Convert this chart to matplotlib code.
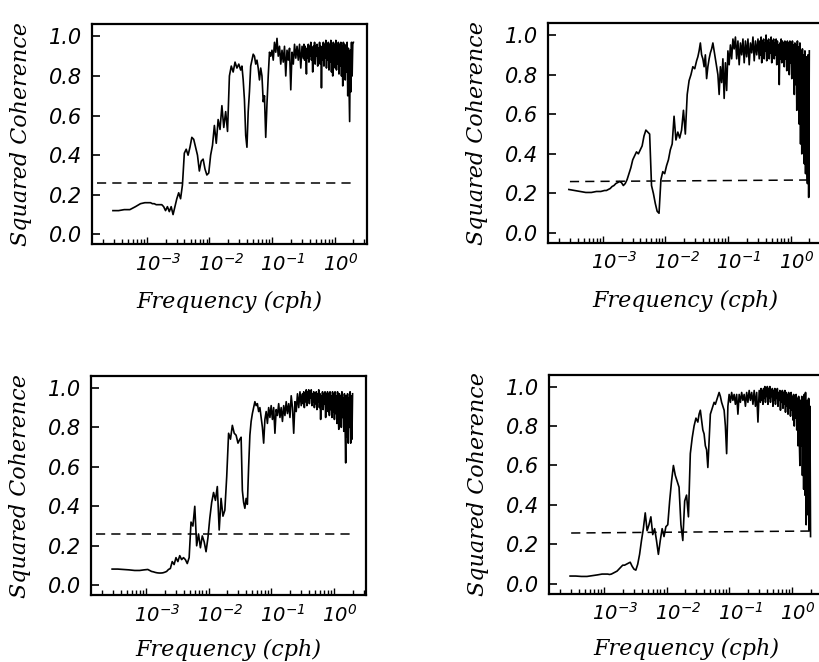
import numpy as np
import matplotlib
matplotlib.use("Agg")
import matplotlib.pyplot as plt
from matplotlib.ticker import LogLocator, NullFormatter, FixedLocator
from matplotlib.transforms import offset_copy

plt.rcParams['mathtext.fontset'] = 'custom'
plt.rcParams['mathtext.rm'] = 'DejaVu Sans:italic'
plt.rcParams['mathtext.it'] = 'DejaVu Sans:italic'

# frequency grid (log10 of cph), shared by the four panels
log_freq = [
    -3.54, -3.45, -3.36, -3.27, -3.18, -3.10, -3.03,
    -2.97, -2.94, -2.91, -2.88, -2.85, -2.82, -2.79, -2.76, -2.73, -2.70,
    -2.67, -2.64, -2.61, -2.58, -2.55, -2.52, -2.49, -2.46, -2.43, -2.40,
    -2.37, -2.34, -2.31, -2.28, -2.25, -2.22, -2.19, -2.16, -2.13, -2.10,
    -2.07, -2.04, -2.01, -1.98, -1.95, -1.92, -1.89, -1.86, -1.83, -1.80,
    -1.77, -1.74, -1.71, -1.68, -1.65, -1.62, -1.59, -1.56, -1.53, -1.50,
    -1.48, -1.46, -1.44, -1.42, -1.40, -1.38, -1.36, -1.34, -1.32, -1.30,
    -1.28, -1.26, -1.24, -1.22, -1.20, -1.18, -1.16, -1.14, -1.12, -1.10,
    -1.08, -1.06, -1.04, -1.02, -1.00, -0.98, -0.96, -0.94, -0.92, -0.90,
    -0.88, -0.86, -0.84, -0.82, -0.80, -0.78, -0.76, -0.74, -0.72, -0.70,
    -0.68, -0.66, -0.64, -0.62, -0.60, -0.58, -0.56, -0.54, -0.52, -0.50,
    -0.49, -0.48, -0.47, -0.46, -0.45, -0.44, -0.43, -0.42, -0.41, -0.40,
    -0.39, -0.38, -0.37, -0.36, -0.35, -0.34, -0.33, -0.32, -0.31, -0.30,
    -0.29, -0.28, -0.27, -0.26, -0.25, -0.24, -0.23, -0.22, -0.21, -0.20,
    -0.19, -0.18, -0.17, -0.16, -0.15, -0.14, -0.13, -0.12, -0.11, -0.10,
    -0.09, -0.08, -0.07, -0.06, -0.05, -0.04, -0.03, -0.02, -0.01, 0.00,
    0.01, 0.02, 0.03, 0.04, 0.05, 0.06, 0.07, 0.08, 0.09, 0.10,
    0.11, 0.12, 0.13, 0.14, 0.15, 0.16, 0.17, 0.18, 0.19, 0.20,
    0.21, 0.22, 0.23, 0.24, 0.25, 0.26, 0.27, 0.28, 0.29, 0.30,
]

coh_a = [
    0.12, 0.12, 0.125, 0.125, 0.14, 0.155, 0.16,
    0.16, 0.16, 0.155, 0.155, 0.15, 0.15, 0.15, 0.15, 0.14, 0.12,
    0.14, 0.115, 0.14, 0.10, 0.14, 0.18, 0.21, 0.18, 0.25, 0.41,
    0.43, 0.40, 0.44, 0.49, 0.48, 0.44, 0.40, 0.32, 0.37, 0.38,
    0.33, 0.30, 0.31, 0.40, 0.45, 0.55, 0.46, 0.58, 0.53, 0.65,
    0.54, 0.62, 0.52, 0.80, 0.85, 0.82, 0.87, 0.84, 0.86, 0.83,
    0.85, 0.78, 0.68, 0.50, 0.44, 0.62, 0.72, 0.85, 0.88, 0.91,
    0.90, 0.86, 0.88, 0.84, 0.78, 0.84, 0.80, 0.67, 0.70, 0.49,
    0.66, 0.80, 0.92, 0.90, 0.93, 0.88, 0.97, 0.92, 0.99, 0.90,
    0.95, 0.86, 0.93, 0.87, 0.95, 0.80, 0.93, 0.88, 0.94, 0.73,
    0.92, 0.86, 0.96, 0.89, 0.95, 0.88, 0.96, 0.84, 0.95, 0.89,
    0.96, 0.88, 0.95, 0.90, 0.81, 0.94, 0.89, 0.96, 0.87, 0.95,
    0.90, 0.97, 0.88, 0.94, 0.82, 0.95, 0.89, 0.97, 0.86, 0.95,
    0.90, 0.96, 0.85, 0.94, 0.89, 0.97, 0.86, 0.95, 0.74, 0.93,
    0.88, 0.97, 0.85, 0.96, 0.89, 0.98, 0.84, 0.95, 0.88, 0.97,
    0.83, 0.96, 0.87, 0.98, 0.82, 0.95, 0.80, 0.97, 0.86, 0.96,
    0.84, 0.98, 0.83, 0.95, 0.86, 0.97, 0.81, 0.96, 0.85, 0.97,
    0.80, 0.95, 0.75, 0.97, 0.84, 0.96, 0.78, 0.95, 0.82, 0.97,
    0.70, 0.94, 0.76, 0.57, 0.93, 0.72, 0.97, 0.80, 0.96, 0.97,
]

coh_b = [
    0.22, 0.215, 0.21, 0.205, 0.205, 0.21, 0.21,
    0.215, 0.215, 0.22, 0.225, 0.235, 0.24, 0.25, 0.255, 0.26, 0.255,
    0.24, 0.25, 0.27, 0.30, 0.33, 0.37, 0.39, 0.41, 0.40, 0.42,
    0.44, 0.49, 0.52, 0.51, 0.50, 0.24, 0.20, 0.15, 0.11, 0.10,
    0.27, 0.31, 0.30, 0.34, 0.37, 0.42, 0.45, 0.59, 0.47, 0.51,
    0.48, 0.52, 0.62, 0.50, 0.70, 0.77, 0.80, 0.84, 0.83, 0.87,
    0.89, 0.92, 0.96, 0.90, 0.88, 0.84, 0.90, 0.78, 0.84, 0.88,
    0.91, 0.93, 0.96, 0.92, 0.88, 0.84, 0.80, 0.70, 0.84, 0.76,
    0.88, 0.68, 0.86, 0.72, 0.92, 0.85, 0.95, 0.88, 0.98, 0.93,
    0.99, 0.88, 0.97, 0.85, 0.96, 0.90, 0.98, 0.86, 0.97, 0.89,
    0.98, 0.85, 0.96, 0.91, 0.99, 0.87, 0.97, 0.90, 0.98, 0.88,
    0.97, 0.90, 0.99, 0.86, 0.97, 0.91, 0.98, 0.88, 0.96, 0.92,
    1.00, 0.87, 0.97, 0.90, 0.98, 0.88, 0.96, 0.91, 0.99, 0.86,
    0.97, 0.92, 0.98, 0.88, 0.96, 0.90, 0.98, 0.85, 0.97, 0.91,
    0.95, 0.75, 0.96, 0.88, 0.98, 0.86, 0.97, 0.90, 0.96, 0.84,
    0.97, 0.88, 0.96, 0.82, 0.97, 0.85, 0.96, 0.80, 0.97, 0.86,
    0.96, 0.78, 0.97, 0.82, 0.95, 0.70, 0.96, 0.75, 0.95, 0.62,
    0.97, 0.68, 0.94, 0.55, 0.96, 0.45, 0.92, 0.40, 0.93, 0.50,
    0.90, 0.35, 0.92, 0.30, 0.89, 0.38, 0.25, 0.90, 0.18, 0.92,
]

coh_c = [
    0.082, 0.082, 0.08, 0.078, 0.075, 0.075, 0.078,
    0.08, 0.075, 0.07, 0.068, 0.065, 0.063, 0.062, 0.062, 0.063, 0.066,
    0.07, 0.08, 0.085, 0.12, 0.105, 0.14, 0.12, 0.15, 0.13, 0.14,
    0.13, 0.11, 0.14, 0.32, 0.30, 0.40, 0.20, 0.26, 0.19, 0.25,
    0.22, 0.17, 0.24, 0.34, 0.42, 0.47, 0.43, 0.50, 0.28, 0.44,
    0.35, 0.38, 0.55, 0.77, 0.74, 0.81, 0.77, 0.76, 0.72, 0.74,
    0.75, 0.48, 0.42, 0.39, 0.44, 0.41, 0.60, 0.76, 0.83, 0.87,
    0.90, 0.93, 0.91, 0.92, 0.88, 0.90, 0.85, 0.80, 0.72, 0.84,
    0.88, 0.82, 0.90, 0.85, 0.91, 0.84, 0.90, 0.77, 0.89, 0.86,
    0.92, 0.85, 0.90, 0.83, 0.91, 0.86, 0.93, 0.87, 0.92, 0.85,
    0.96, 0.90, 0.77, 0.93, 0.88, 0.97, 0.90, 0.98, 0.91, 0.97,
    0.92, 0.98, 0.90, 0.97, 0.93, 0.99, 0.91, 0.98, 0.94, 0.99,
    0.92, 0.98, 0.95, 0.99, 0.91, 0.97, 0.93, 0.98, 0.90, 0.96,
    0.92, 0.98, 0.89, 0.97, 0.93, 0.99, 0.90, 0.97, 0.84, 0.96,
    0.91, 0.98, 0.89, 0.97, 0.92, 0.98, 0.85, 0.97, 0.90, 0.98,
    0.88, 0.97, 0.86, 0.98, 0.89, 0.96, 0.85, 0.98, 0.88, 0.97,
    0.84, 0.98, 0.87, 0.96, 0.82, 0.98, 0.86, 0.79, 0.97, 0.84,
    0.96, 0.80, 0.98, 0.85, 0.95, 0.78, 0.97, 0.82, 0.62, 0.96,
    0.75, 0.97, 0.72, 0.95, 0.80, 0.98, 0.72, 0.96, 0.74, 0.97,
]

coh_d = [
    0.04, 0.04, 0.038, 0.038, 0.042, 0.046, 0.05,
    0.05, 0.05, 0.048, 0.05, 0.055, 0.06, 0.065, 0.075, 0.085, 0.095,
    0.095, 0.10, 0.105, 0.11, 0.09, 0.075, 0.07, 0.10, 0.15, 0.22,
    0.28, 0.36, 0.27, 0.30, 0.34, 0.25, 0.28, 0.22, 0.15, 0.22,
    0.28, 0.24, 0.29, 0.30, 0.42, 0.52, 0.60, 0.55, 0.52, 0.49,
    0.30, 0.22, 0.42, 0.45, 0.34, 0.66, 0.74, 0.80, 0.84, 0.82,
    0.86, 0.88, 0.83, 0.78, 0.76, 0.70, 0.68, 0.59, 0.72, 0.86,
    0.88, 0.90, 0.92, 0.91, 0.93, 0.95, 0.97, 0.95, 0.92, 0.90,
    0.88, 0.80, 0.66, 0.90, 0.96, 0.92, 0.97, 0.93, 0.96, 0.91,
    0.96, 0.86, 0.96, 0.92, 0.97, 0.93, 0.96, 0.90, 0.97, 0.92,
    0.98, 0.93, 0.97, 0.91, 0.98, 0.90, 0.97, 0.82, 0.98, 0.92,
    0.99, 0.93, 0.98, 0.91, 0.99, 0.94, 1.00, 0.92, 0.99, 0.95,
    1.00, 0.91, 0.99, 0.94, 1.00, 0.92, 0.98, 0.95, 0.99, 0.90,
    0.98, 0.93, 0.99, 0.91, 0.98, 0.94, 0.99, 0.90, 0.97, 0.93,
    0.98, 0.88, 0.97, 0.92, 0.98, 0.89, 0.97, 0.91, 0.98, 0.87,
    0.97, 0.90, 0.96, 0.86, 0.97, 0.89, 0.96, 0.85, 0.97, 0.88,
    0.95, 0.83, 0.96, 0.80, 0.95, 0.84, 0.96, 0.78, 0.94, 0.70,
    0.95, 0.74, 0.60, 0.93, 0.70, 0.95, 0.55, 0.92, 0.48, 0.96,
    0.45, 0.97, 0.30, 0.50, 0.93, 0.35, 0.94, 0.27, 0.90, 0.24,
]

# 95% significance level (dashed), start/end frequency and level
sig_freq_left = [1.6e-4, 1.95]
sig_freq_right = [3.0e-4, 2.1]
sig_a = [0.262, 0.262]
sig_b = [0.260, 0.268]
sig_c = [0.262, 0.262]
sig_d = [0.258, 0.268]

y_ticks = [0.0, 0.2, 0.4, 0.6, 0.8, 1.0]
y_ticklabels = ['0.0', '0.2', '0.4', '0.6', '0.8', '1.0']
x_ticks = [1e-3, 1e-2, 1e-1, 1e0]
x_ticklabels = [r'$10^{-3}$', r'$10^{-2}$', r'$10^{-1}$', r'$10^{0}$']

freq_cph = 10.0 ** np.array(log_freq)

fig = plt.figure(figsize=(8.2, 6.62), dpi=100)

# rect, values, dashed-line x, dashed-line level, xlabel y position
panels = [
    ([0.112, 0.631, 0.335, 0.332], coh_a, sig_freq_left, sig_a, -0.262),
    ([0.668, 0.633, 0.335, 0.332], coh_b, sig_freq_right, sig_b, -0.262),
    ([0.111, 0.101, 0.335, 0.331], coh_c, sig_freq_left, sig_c, -0.25),
    ([0.6695, 0.103, 0.335, 0.331], coh_d, sig_freq_right, sig_d, -0.25),
]

label_font = dict(family='DejaVu Serif', style='italic', fontsize=16)

for rect, coh, sfreq, slev, xl_y in panels:
    ax = fig.add_axes(rect)
    ax.plot(freq_cph, coh, color='black', lw=1.2)
    ax.plot(sfreq, slev, color='black', lw=1.1, dashes=(6, 4))
    ax.set_xscale('log')
    ax.set_xlim(10 ** -3.877, 10 ** 0.51)
    ax.set_ylim(-0.05, 1.06)

    ax.xaxis.set_major_locator(FixedLocator(x_ticks))
    ax.xaxis.set_major_formatter(NullFormatter())
    ax.xaxis.set_minor_locator(LogLocator(base=10, subs=np.arange(2, 10)))
    ax.xaxis.set_minor_formatter(NullFormatter())

    # decade labels: the "10" sits centred on its tick, exponent hangs right
    lab_tr = offset_copy(ax.get_xaxis_transform(), fig=fig, x=-8.3, y=-6, units='points')
    for xt, xl in zip(x_ticks, x_ticklabels):
        ax.text(xt, 0, xl, transform=lab_tr, ha='left', va='top', fontsize=14)

    ax.set_yticks(y_ticks)
    ax.set_yticklabels(y_ticklabels, fontsize=15, style='italic')

    ax.tick_params(axis='y', direction='in', length=6, width=1.2, pad=7, left=True, right=False)
    ax.tick_params(axis='x', which='major', direction='in', length=5, width=1.0, top=False)
    ax.tick_params(axis='x', which='minor', direction='in', length=3.5, width=1.0, top=False)

    for sp in ax.spines.values():
        sp.set_linewidth(1.6)

    ax.set_xlabel('Frequency (cph)', **label_font)
    ax.set_ylabel('Squared Coherence', **label_font)
    ax.xaxis.set_label_coords(0.5, xl_y)
    ax.xaxis.label.set_verticalalignment('center')
    ax.yaxis.set_label_coords(-0.258, 0.5)
    ax.yaxis.label.set_verticalalignment('center')

fig.savefig('out.png', dpi=100)
